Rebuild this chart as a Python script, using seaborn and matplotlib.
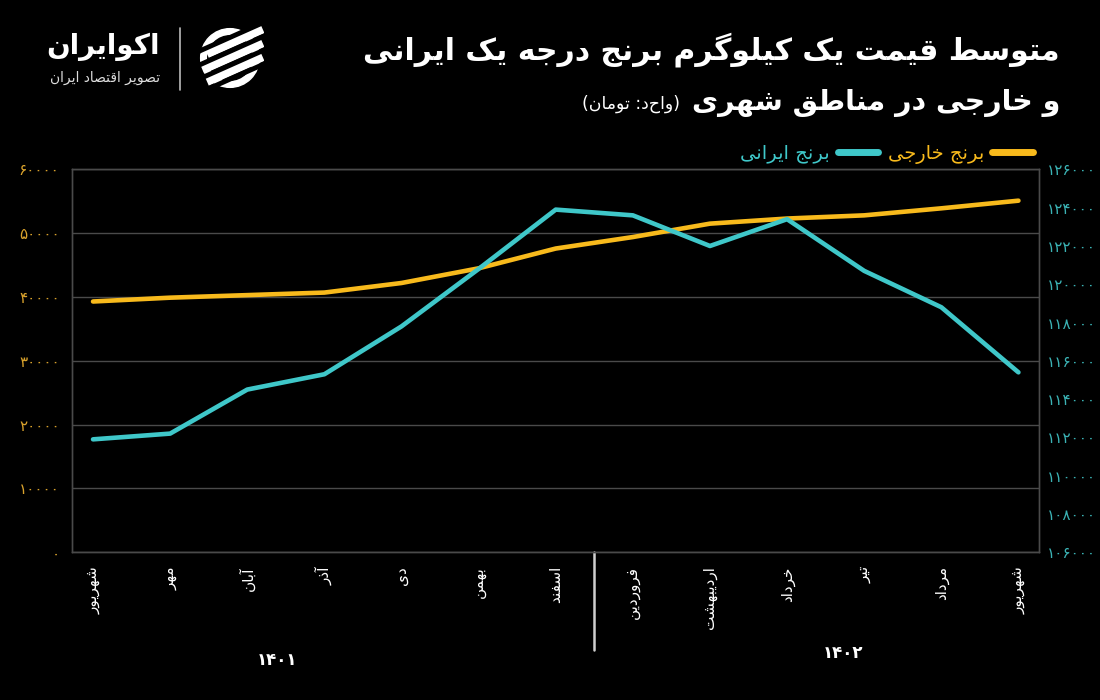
import numpy as np
import pandas as pd
import matplotlib
matplotlib.use("Agg")
import matplotlib.pyplot as plt
import matplotlib.transforms as mtransforms
from matplotlib.lines import Line2D
from matplotlib.patches import Circle
from matplotlib.ticker import FixedLocator, FuncFormatter
import seaborn as sns

# ==================================================
# DATA
# ==================================================

months = ["شهریور", "مهر", "آبان", "آذر", "دی", "بهمن", "اسفند",
          "فروردین", "اردیبهشت", "خرداد", "تیر", "مرداد", "شهریور"]
years = ["1401", "1402"]

foreign_rice = [39300, 39900, 40300, 40700, 42200, 44500, 47600,
                49400, 51500, 52300, 52800, 53900, 55100]
iranian_rice = [111900, 112200, 114500, 115300, 117800, 120800, 123900,
                123600, 122000, 123400, 120700, 118800, 115400]

left_ticks = [0, 10000, 20000, 30000, 40000, 50000, 60000]
right_ticks = list(range(106000, 126001, 2000))

title_1 = "متوسط قیمت یک کیلوگرم برنج درجه یک ایرانی"
title_2 = "و خارجی در مناطق شهری"
unit_txt = "(واحد: تومان)"
label_foreign = "برنج خارجی"
label_iranian = "برنج ایرانی"
brand = "اکوایران"
brand_sub = "تصویر اقتصاد ایران"

# ==================================================
# PERSIAN SHAPING (matplotlib has no RTL / joining)
# ==================================================

PF = {
    "آ": ("\uFE81", "\uFE82", None, None),
    "ا": ("\uFE8D", "\uFE8E", None, None),
    "ب": ("\uFE8F", "\uFE90", "\uFE91", "\uFE92"),
    "پ": ("\uFB56", "\uFB57", "\uFB58", "\uFB59"),
    "ت": ("\uFE95", "\uFE96", "\uFE97", "\uFE98"),
    "ج": ("\uFE9D", "\uFE9E", "\uFE9F", "\uFEA0"),
    "خ": ("\uFEA5", "\uFEA6", "\uFEA7", "\uFEA8"),
    "د": ("\uFEA9", "\uFEAA", None, None),
    "ذ": ("\uFEAB", "\uFEAC", None, None),
    "ر": ("\uFEAD", "\uFEAE", None, None),
    "ز": ("\uFEAF", "\uFEB0", None, None),
    "س": ("\uFEB1", "\uFEB2", "\uFEB3", "\uFEB4"),
    "ش": ("\uFEB5", "\uFEB6", "\uFEB7", "\uFEB8"),
    "ص": ("\uFEB9", "\uFEBA", "\uFEBB", "\uFEBC"),
    "ط": ("\uFEC1", "\uFEC2", "\uFEC3", "\uFEC4"),
    "ف": ("\uFED1", "\uFED2", "\uFED3", "\uFED4"),
    "ق": ("\uFED5", "\uFED6", "\uFED7", "\uFED8"),
    "ک": ("\uFB8E", "\uFB8F", "\uFB90", "\uFB91"),
    "گ": ("\uFB92", "\uFB93", "\uFB94", "\uFB95"),
    "ل": ("\uFEDD", "\uFEDE", "\uFEDF", "\uFEE0"),
    "م": ("\uFEE1", "\uFEE2", "\uFEE3", "\uFEE4"),
    "ن": ("\uFEE5", "\uFEE6", "\uFEE7", "\uFEE8"),
    "ه": ("\uFEE9", "\uFEEA", "\uFEEB", "\uFEEC"),
    "و": ("\uFEED", "\uFEEE", None, None),
    "ی": ("\uFBFC", "\uFBFD", "\uFBFE", "\uFBFF"),
}


def fa(text):
    text = text.replace("ي", "ی").replace("ك", "ک")
    out = []
    for i, ch in enumerate(text):
        if ch not in PF:
            out.append(ch)
            continue
        prev = text[i - 1] if i > 0 else ""
        nxt = text[i + 1] if i + 1 < len(text) else ""
        join_prev = prev in PF and PF[prev][2] is not None
        join_next = nxt in PF and PF[ch][2] is not None
        iso, fin, ini, med = PF[ch]
        if join_prev and join_next:
            out.append(med)
        elif join_prev:
            out.append(fin)
        elif join_next:
            out.append(ini)
        else:
            out.append(iso)
    vis = "".join(reversed(out))
    return vis.translate(str.maketrans("()", ")("))


def fa_num(s):
    return str(s).translate(str.maketrans("0123456789", "۰۱۲۳۴۵۶۷۸۹"))


# ==================================================
# STYLE
# ==================================================

sns.set_theme(style="dark")
plt.rcParams["font.family"] = ["DejaVu Sans"]

BG = "#000000"
YELLOW = "#F8BA1C"
TEAL = "#3FC7C9"
GRID = "#4a4a4a"

df = pd.DataFrame({
    "idx": np.arange(len(months)),
    "foreign": foreign_rice,
    "iranian": iranian_rice,
})

fig = plt.figure(figsize=(11, 7), dpi=100, facecolor=BG)
ax = fig.add_axes([0.0655, 0.211, 0.879, 0.547])
ax.set_facecolor(BG)

sns.lineplot(data=df, x="idx", y="foreign", ax=ax, color=YELLOW,
             linewidth=3.3, solid_capstyle="round")
ax2 = ax.twinx()
sns.lineplot(data=df, x="idx", y="iranian", ax=ax2, color=TEAL,
             linewidth=3.3, solid_capstyle="round")

ax.set_xlim(-0.272, 12.266)
ax.set_ylim(0, 60000)
ax2.set_ylim(106000, 126000)

ax.yaxis.set_major_locator(FixedLocator(left_ticks))
ax.yaxis.set_major_formatter(FuncFormatter(lambda v, p: fa_num(int(v))))
ax2.yaxis.set_major_locator(FixedLocator(right_ticks))
ax2.yaxis.set_major_formatter(FuncFormatter(lambda v, p: fa_num(int(v))))

ax.set_xticks(df["idx"])
ax.set_xticklabels([fa(m) for m in months], rotation=90,
                   color="white", fontsize=11)
ax.tick_params(axis="x", length=0, pad=10)
ax.tick_params(axis="y", length=0, pad=9, labelcolor="#D9A22C", labelsize=11)
ax2.tick_params(axis="y", length=0, pad=6, labelcolor="#3BB3B5", labelsize=11)

ax.set_xlabel("")
ax.set_ylabel("")
ax2.set_ylabel("")

ax.grid(axis="y", color=GRID, linewidth=1)
ax.grid(axis="x", visible=False)
ax2.grid(False)
for a in (ax, ax2):
    for s in a.spines.values():
        s.set_visible(True)
        s.set_color(GRID)
        s.set_linewidth(1)

# year separator and year labels
trans = mtransforms.blended_transform_factory(ax.transData, ax.transAxes)
ax.plot([6.5, 6.5], [0, -0.255], transform=trans, color="#cfcfcf",
        linewidth=1.8, clip_on=False)
ax.text(2.39, -0.28, fa_num(years[0]), transform=trans, color="white",
        fontsize=12, fontweight="bold", ha="center", va="center")
ax.text(9.73, -0.262, fa_num(years[1]), transform=trans, color="white",
        fontsize=12, fontweight="bold", ha="center", va="center")

# legend (RTL: marker to the right of its label)
handles = [Line2D([0], [0], color=TEAL, linewidth=5, solid_capstyle="round"),
           Line2D([0], [0], color=YELLOW, linewidth=5, solid_capstyle="round")]
leg = ax2.legend(handles, [fa(label_iranian), fa(label_foreign)],
                 ncol=2, markerfirst=False, frameon=False,
                 loc="lower right", bbox_to_anchor=(1.0, 1.0),
                 fontsize=14, handlelength=2.1, columnspacing=0.5,
                 handletextpad=0.4, borderaxespad=0.2, borderpad=0.1)
for txt, c in zip(leg.get_texts(), [TEAL, YELLOW]):
    txt.set_color(c)

# ==================================================
# TITLE AND BRAND
# ==================================================

fig.text(1060 / 1100, 1 - 50 / 700, fa(title_1), color="white", fontsize=21.5,
         fontweight="bold", ha="right", va="center")
fig.text(1060 / 1100, 1 - 103 / 700, fa(title_2), color="white", fontsize=20.5,
         fontweight="bold", ha="right", va="center")
fig.text(680 / 1100, 1 - 104 / 700, fa(unit_txt), color="white", fontsize=12.5,
         ha="right", va="center")

fig.text(160 / 1100, 1 - 47 / 700, fa(brand), color="white", fontsize=20,
         fontweight="bold", ha="right", va="center")
fig.text(160 / 1100, 1 - 78 / 700, fa(brand_sub), color="#dddddd",
         fontsize=10, ha="right", va="center")
fig.add_artist(Line2D([180 / 1100, 180 / 1100], [1 - 28 / 700, 1 - 90 / 700],
                      color="#bbbbbb", linewidth=1.2))

# striped-circle icon
icon = fig.add_axes([196 / 1100, 1 - 92 / 700, 68 / 1100, 68 / 700])
icon.set_xlim(-1.1, 1.1)
icon.set_ylim(-1.1, 1.1)
icon.set_aspect("equal")
icon.axis("off")
icon.add_patch(Circle((0, 0), 0.95, color="white"))
icon.add_patch(Circle((0, 0), 0.72, color=BG))
for off in (-0.5, -0.05, 0.4):
    icon.plot([-0.75, 1.05], [off - 0.25, off + 0.55], color="white",
              linewidth=7, solid_capstyle="butt")
for off in (-0.72, -0.27, 0.18, 0.63):
    icon.plot([-1.2, 1.2], [off - 0.5, off + 0.57], color=BG,
              linewidth=3.5, solid_capstyle="butt")

fig.savefig("out.png", dpi=100, facecolor=BG)
